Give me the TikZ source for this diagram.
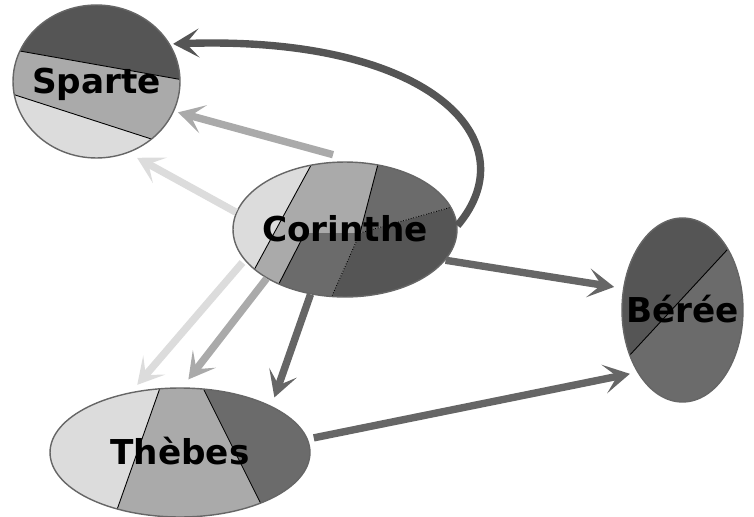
\documentclass[tikz,border=0pt]{standalone}
\usepackage{fontspec}
\setsansfont{DejaVu Sans}
\usetikzlibrary{shapes.geometric,arrows.meta,backgrounds}
\definecolor{clair}{HTML}{DCDCDC}
\definecolor{moyen}{HTML}{AAAAAA}
\definecolor{fonce}{HTML}{6B6B6B}
\definecolor{sombre}{HTML}{555555}
\definecolor{fleche}{HTML}{666666}

\begin{document}
\begin{tikzpicture}[x=0.02cm,y=-0.02cm,
	city/.style={draw=black!60,line width=0.8pt,ellipse,inner sep=0pt},
	lbl/.style={font=\sffamily\bfseries\fontsize{19.5}{22}\selectfont,text height=0.73em,text depth=0pt,inner sep=0pt,yshift=-0.12cm},
	arr/.style={line width=4.2pt,-{Stealth[length=0.52cm,width=0.58cm,inset=0.26cm]}},
	sep/.style={black,line width=0.5pt}]
	\useasboundingbox (0,0) rectangle (754,517);
	%villes
	\node(spa)[city,minimum width=3.34cm,minimum height=3.06cm,label={[lbl]center:Sparte}] at (96.5,81.5) {};
	\node(cor)[city,minimum width=4.48cm,minimum height=2.7cm,label={[lbl]center:Corinthe}] at (345,229.5) {};
	\node(the)[city,minimum width=5.2cm,minimum height=2.58cm,label={[lbl]center:Thèbes}] at (180,452.5) {};
	\node(ber)[city,minimum width=2.42cm,minimum height=3.68cm,label={[lbl]center:Bérée}] at (682.5,310) {};
	%parts
	\begin{pgfonlayer}{background}
	\begin{scope}
		\clip (spa.center) ellipse [x radius=1.67cm,y radius=1.53cm];
		\fill[clair] (0,0) rectangle (190,170);
		\fill[sombre] (0,0) -- (190,0) -- (190,81.2) -- (0,47.5) -- cycle;
		\fill[moyen] (0,47.5) -- (190,81.2) -- (190,151.5) -- (0,90.1) -- cycle;
		\draw[sep] (0,47.5) -- (190,81.2);
		\draw[sep] (0,90.1) -- (190,151.5);
	\end{scope}
	\begin{scope}
		\clip (cor.center) ellipse [x radius=2.24cm,y radius=1.35cm];
		\fill[clair] (225,150) rectangle (470,310);
		\fill[moyen] (322,145) -- (383,145) -- (360,233) -- (305,233) -- (268,305) -- (235,305) -- cycle;
		\fill[fonce] (383,145) -- (480,145) -- (480,199) -- (360,233) -- cycle;
		\fill[fonce] (305,233) -- (360,233) -- (328,305) -- (268,305) -- cycle;
		\fill[sombre] (360,233) -- (480,199) -- (480,305) -- (328,305) -- cycle;
		\draw[sep] (322,145) -- (235,305);
		\draw[sep] (383,145) -- (360,233);
		\draw[sep] (305,233) -- (268,305);
		\draw[sep,densely dotted] (480,199) -- (360,233) -- (328,305);
	\end{scope}
	\begin{scope}
		\clip (the.center) ellipse [x radius=2.6cm,y radius=1.29cm];
		\fill[clair] (40,380) rectangle (320,525);
		\fill[moyen] (162.8,380) -- (199,380) -- (271.5,525) -- (111.6,525) -- cycle;
		\fill[fonce] (199,380) -- (320,380) -- (320,525) -- (271.5,525) -- cycle;
		\draw[sep] (162.8,380) -- (111.6,525);
		\draw[sep] (199,380) -- (271.5,525);
	\end{scope}
	\begin{scope}
		\clip (ber.center) ellipse [x radius=1.21cm,y radius=1.84cm];
		\fill[fonce] (610,210) rectangle (760,410);
		\fill[sombre] (610,210) -- (760,210) -- (760,214.3) -- (610,376.5) -- cycle;
		\draw[sep] (760,214.3) -- (610,376.5);
	\end{scope}
	\end{pgfonlayer}
	%fleches
	\draw[arr,sombre,shorten >=0.06cm] (cor.2) .. controls (530,140) and (430,35) .. (spa.27);
	\draw[arr,moyen,shorten >=0.08cm] ([yshift=0.14cm]cor.100) -- (spa.-21);
	\draw[arr,clair,shorten >=0.2cm] (cor.171) -- (spa.-66);
	\draw[arr,clair,shorten >=0.19cm,shorten <=0.06cm] (cor.197) -- (the.129);
	\draw[arr,moyen,shorten >=0.2cm] (cor.212) -- (the.88);
	\draw[arr,fleche,shorten >=0.18cm] (cor.242) -- (the.27);
	\draw[arr,fleche,shorten >=0.18cm] (cor.-17) -- (ber.160);
	\draw[arr,fleche,shorten >=0.15cm,shorten <=0.12cm] (the.6) -- (ber.234);
\end{tikzpicture}
\end{document}
